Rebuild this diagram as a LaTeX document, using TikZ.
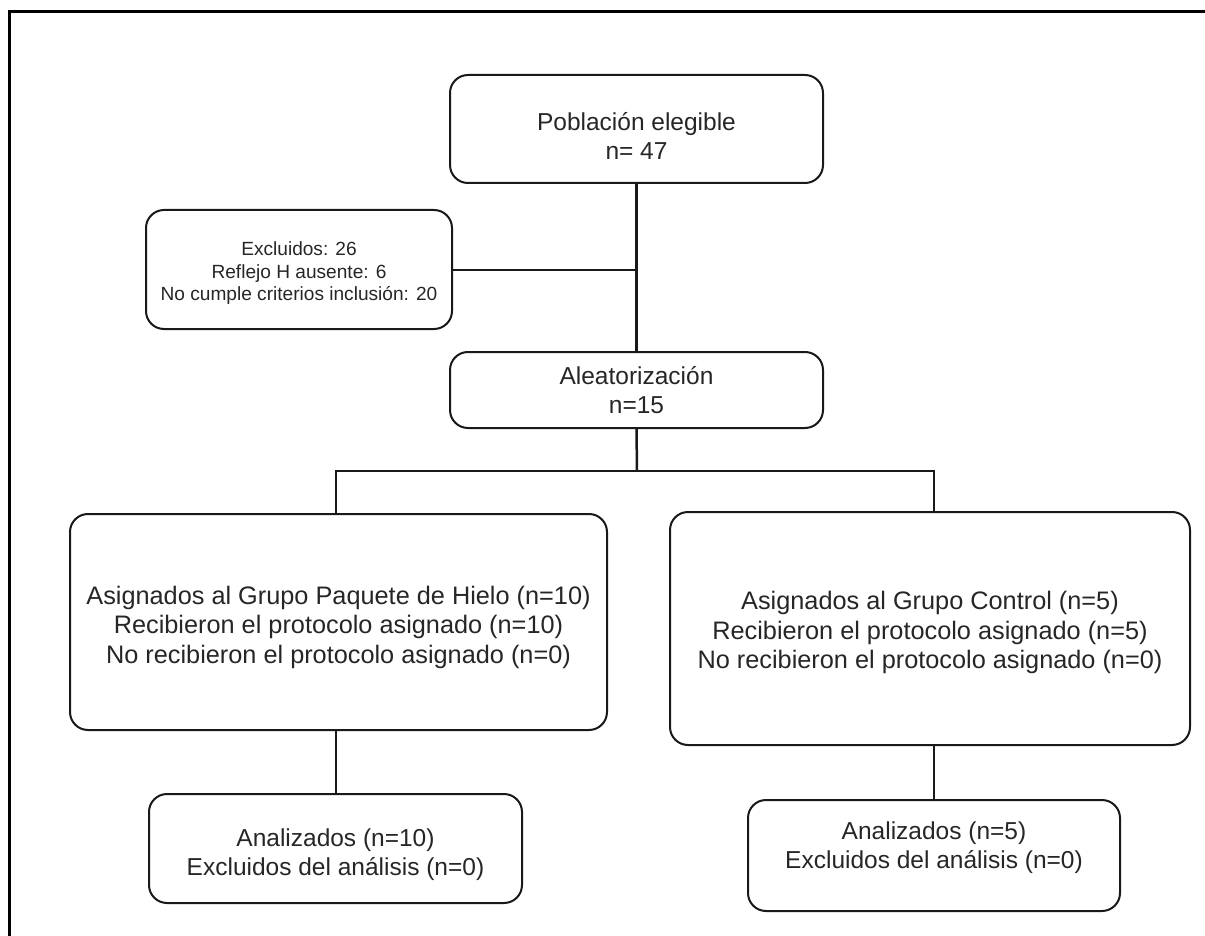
\documentclass[tikz,border=0pt]{standalone}
\usepackage{fontspec}
\setmainfont{Liberation Sans}
\begin{document}
\begin{tikzpicture}[x=1pt, y=-1pt,
  box/.style={draw=black!90, line width=2pt, rounded corners=18pt, rectangle, inner sep=0pt},
  txt/.style={align=center, text=black!85, inner sep=0pt,
    font=\fontsize{24.5}{29.5}\selectfont},
  bigtxt/.style={txt, font=\fontsize{25.3}{29.5}\selectfont},
  smalltxt/.style={txt, font=\fontsize{19.1}{22.5}\selectfont},
  conn/.style={draw=black!90, line width=2pt},
  frame/.style={draw=black, line width=3pt}]
\useasboundingbox (0,0) rectangle (1205,936);

% outer frame (top and left edges only)
\draw[frame] (9,936) -- (9,12) -- (1205,12);

% boxes
\node[box, minimum width=373pt, minimum height=108pt] (pop) at (636.5,129) {};
\node[box, minimum width=306pt, minimum height=119pt] (excl) at (299,269.5) {};
\node[box, minimum width=373pt, minimum height=76pt] (rand) at (636.5,390) {};
\node[box, minimum width=537pt, minimum height=216pt] (lg) at (338.5,622) {};
\node[box, minimum width=520pt, minimum height=233pt] (rg) at (930,628.5) {};
\node[box, minimum width=373pt, minimum height=109pt] (lb) at (335.5,848.5) {};
\node[box, minimum width=372pt, minimum height=111pt] (rb) at (934,855.5) {};

% box texts
\node[txt] (pop-t) at ([yshift=-7pt]pop.center) {Población elegible\\n= 47};
\node[smalltxt] (excl-t) at ([yshift=-4pt]excl.center)
  {Excluidos: 26\\Reflejo H ausente: 6\\No cumple criterios inclusión: 20};
\node[txt] (rand-t) at (rand.center) {Aleatorización\\n=15};
\node[bigtxt] (lg-t) at ([yshift=-5pt]lg.center)
  {Asignados al Grupo Paquete de Hielo (n=10)\\Recibieron el protocolo asignado (n=10)\\No recibieron el protocolo asignado (n=0)};
\node[bigtxt] (rg-t) at ([yshift=-4pt]rg.center)
  {Asignados al Grupo Control (n=5)\\Recibieron el protocolo asignado (n=5)\\No recibieron el protocolo asignado (n=0)};
\node[txt] (lb-t) at ([yshift=-6pt]lb.center) {Analizados (n=10)\\Excluidos del análisis (n=0)};
\node[txt] (rb-t) at ([yshift=8pt]rb.center) {Analizados (n=5)\\Excluidos del análisis (n=0)};

% connectors
\coordinate (split) at (637,471);
\draw[conn, line width=2.5pt] (pop.south) -- (rand.north);
\draw[conn] (excl.east) -- (excl.east -| pop.south);
\draw[conn, line width=2.5pt] (rand.south) -- (split);
\draw[conn] (lg.north -| lb.north) |- (split) -| (rg.north -| rb.north);
\draw[conn] (lg.south -| lb.north) -- (lb.north);
\draw[conn] (rg.south -| rb.north) -- (rb.north);
\end{tikzpicture}
\end{document}
